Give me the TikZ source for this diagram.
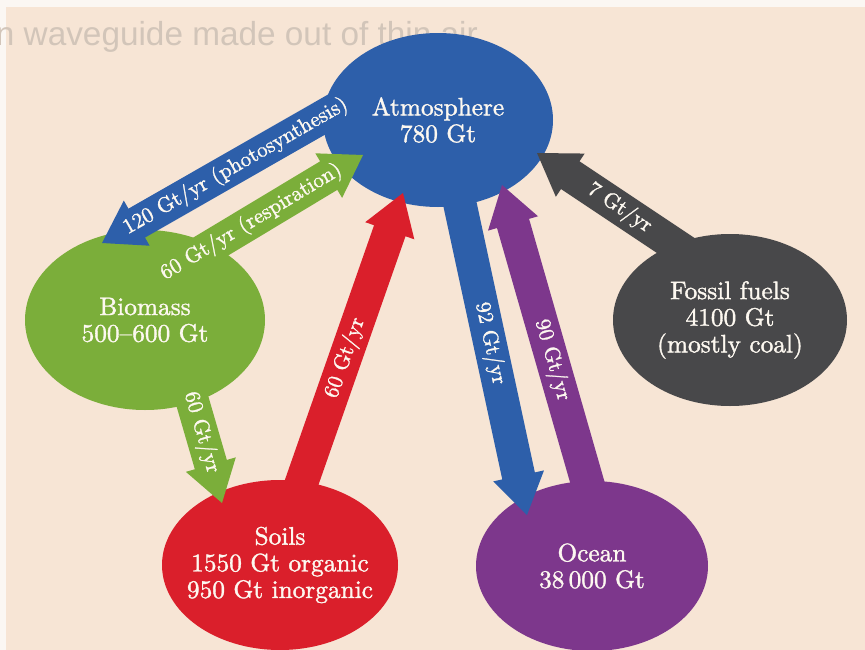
\documentclass[tikz,border=0pt]{standalone}
\usepackage{fontspec}
\setmainfont{lmroman10-regular.otf}
\newfontfamily\hdrfont{Liberation Sans}
\newfontfamily\labfont{lmroman10-regular.otf}[FakeBold=1.4,Ligatures=TeX]
\usetikzlibrary{calc,shapes.geometric}
\definecolor{bgc}{HTML}{F7E5D5}
\definecolor{edgec}{HTML}{FBF7F3}
\definecolor{hdrc}{HTML}{D2C5B9}
\definecolor{atmc}{HTML}{2D5FAA}
\definecolor{bioc}{HTML}{7BAE3A}
\definecolor{soilc}{HTML}{DA1F2B}
\definecolor{oceanc}{HTML}{7D378C}
\definecolor{fossc}{HTML}{48484A}
\definecolor{txtc}{HTML}{FDF8F0}
\newcommand{\ahlen}{30pt}
\newcommand{\ashw}{12.5pt}
\newcommand{\ahhw}{19.5pt}
\newcommand{\blockarrow}[3]{%
  \coordinate (hb) at ($(#2)!\ahlen!(#1)$);
  \fill[#3] ($(#1)!\ashw!90:(#2)$) -- ($(hb)!\ashw!90:(#2)$) -- ($(hb)!\ahhw!90:(#2)$)
    -- (#2) -- ($(hb)!\ahhw!-90:(#2)$) -- ($(hb)!\ashw!-90:(#2)$) -- ($(#1)!\ashw!-90:(#2)$) -- cycle;}
\begin{document}
\begin{tikzpicture}[x=0.75pt,y=-0.75pt,
  ell/.style={ellipse, inner sep=0pt},
  lab/.style={text=txtc, font=\labfont\fontsize{19}{20}\selectfont, align=center, inner sep=0pt},
  flow/.style={text=txtc, font=\labfont\fontsize{16}{17}\selectfont, sloped, inner sep=0pt}]
\useasboundingbox (0,0) rectangle (865,650);
\clip (0,0) rectangle (865,650);
\fill[bgc] (0,0) rectangle (865,650);
\fill[edgec] (0,0) rectangle (865,7);
\fill[edgec] (0,0) rectangle (6,650);
\node[anchor=base east, text=hdrc, font=\hdrfont\fontsize{25}{30}\selectfont, inner sep=0pt] (header) at (478,45) {n waveguide made out of thin air};

% reservoirs
\node[ell, fill=atmc, minimum width=172.5pt, minimum height=130.5pt,
  label={[lab, name=atmT]center:{Atmosphere\\780 Gt}}] (atm) at (438,120) {};
\node[ell, fill=bioc, minimum width=180pt, minimum height=135pt,
  label={[lab, name=bioT]center:{Biomass\\500–600 Gt}}] (bio) at (145,320) {};
\node[ell, fill=soilc, minimum width=177pt, minimum height=127.5pt,
  label={[lab, name=soilT]center:{Soils\\1550 Gt organic\\950 Gt inorganic}}] (soil) at (280,565) {};
\node[ell, fill=oceanc, minimum width=174pt, minimum height=127.5pt,
  label={[lab, name=oceanT]center:{Ocean\\38\,000 Gt}}] (ocean) at (592,566) {};
\node[ell, fill=fossc, minimum width=175.5pt, minimum height=129pt,
  label={[lab, name=fossT]center:{Fossil fuels\\4100 Gt\\(mostly coal)}}] (foss) at (730,320) {};

% arrow end points
\coordinate (p1s) at (345,104); \coordinate (p1t) at (102,243);
\coordinate (r1s) at (180,265); \coordinate (r1t) at (363,155);
\coordinate (bs1) at (181,362); \coordinate (bs2) at (222,503);
\coordinate (sa1) at (292,510); \coordinate (sa2) at (403,193);
\coordinate (ao1) at (453,172); \coordinate (ao2) at (527,515);
\coordinate (oa1) at (591,495); \coordinate (oa2) at (502,185);
\coordinate (fa1) at (690,255); \coordinate (fa2) at (537,153);

\blockarrow{p1s}{p1t}{atmc}
\blockarrow{r1s}{r1t}{bioc}
\blockarrow{bs1}{bs2}{bioc}
\blockarrow{sa1}{sa2}{soilc}
\blockarrow{ao1}{ao2}{atmc}
\blockarrow{oa1}{oa2}{oceanc}
\blockarrow{fa1}{fa2}{fossc}

\path (p1s) -- (p1t) node[flow, pos=0.45] (l1) {120 Gt/yr (photosynthesis)};
\path (r1s) -- (r1t) node[flow, pos=0.39] (l2) {60 Gt/yr (respiration)};
\path (bs1) -- (bs2) node[flow, pos=0.50] (l3) {60 Gt/yr};
\path (sa1) -- (sa2) node[flow, pos=0.48] (l4) {60 Gt/yr};
\path (ao1) -- (ao2) node[flow, pos=0.50] (l5) {92 Gt/yr};
\path (oa1) -- (oa2) node[flow, pos=0.435] (l6) {90 Gt/yr};
\path (fa1) -- (fa2) node[flow, pos=0.46] (l7) {7 Gt/yr};
\end{tikzpicture}
\end{document}
